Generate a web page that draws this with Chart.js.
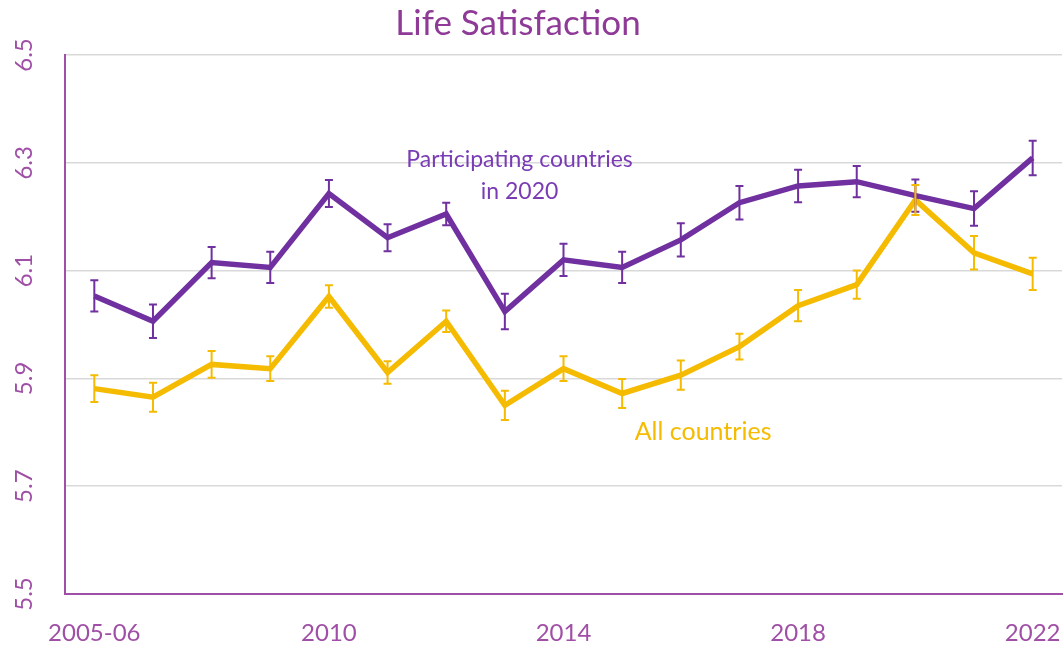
<!DOCTYPE html>
<html>
<head>
<meta charset="utf-8">
<script src="https://cdn.jsdelivr.net/npm/chart.js@4"></script>
<style>
  html, body { margin: 0; padding: 0; background: #fff; }
  #wrap { width: 1063px; height: 645px; }
</style>
</head>
<body>
<div id="wrap"><canvas id="myChart" width="1063" height="645"></canvas></div>
<script>
const years = ["2005-06", "2007", "2008", "2009", "2010", "2011", "2012", "2013", "2014",
  "2015", "2016", "2017", "2018", "2019", "2020", "2021", "2022"]
const shownYears = ["2005-06", "2010", "2014", "2018", "2022"]

const participating = [6.053, 6.006, 6.115, 6.106, 6.243, 6.161, 6.205, 6.024, 6.120,
  6.106, 6.157, 6.226, 6.257, 6.265, 6.239, 6.215, 6.309]
const participatingErr = [0.029, 0.031, 0.029, 0.029, 0.025, 0.025, 0.021, 0.033, 0.030,
  0.029, 0.031, 0.031, 0.030, 0.029, 0.030, 0.032, 0.032]

const allCountries = [5.881, 5.865, 5.926, 5.918, 6.052, 5.911, 6.006, 5.850, 5.918,
  5.872, 5.906, 5.959, 6.035, 6.074, 6.231, 6.133, 6.094]
const allCountriesErr = [0.025, 0.027, 0.025, 0.023, 0.021, 0.021, 0.020, 0.027, 0.023,
  0.027, 0.027, 0.024, 0.029, 0.026, 0.028, 0.031, 0.030]

const yTicks = [5.5, 5.7, 5.9, 6.1, 6.3, 6.5]

const purple = "#7030a0"
const yellow = "#f5bb00"
const axisPurple = "#a04fa6"
const font = "Lato, 'Open Sans', sans-serif"

const errorBars = {
  id: "errorBars",
  afterDatasetsDraw(chart) {
    const ctx = chart.ctx
    const yScale = chart.scales.y
    chart.data.datasets.forEach((ds, i) => {
      const meta = chart.getDatasetMeta(i)
      ctx.save()
      ctx.strokeStyle = ds.borderColor
      ctx.lineWidth = 2
      meta.data.forEach((pt, j) => {
        const v = ds.data[j]
        const e = ds.errors[j]
        const top = yScale.getPixelForValue(v + e)
        const bot = yScale.getPixelForValue(v - e)
        ctx.beginPath()
        ctx.moveTo(pt.x, top)
        ctx.lineTo(pt.x, bot)
        ctx.moveTo(pt.x - 4, top)
        ctx.lineTo(pt.x + 4, top)
        ctx.moveTo(pt.x - 4, bot)
        ctx.lineTo(pt.x + 4, bot)
        ctx.stroke()
      })
      ctx.restore()
    })
  },
}

// y tick labels are rotated and centred on their gridline
const yLabels = {
  id: "yLabels",
  afterDraw(chart) {
    const ctx = chart.ctx
    const y = chart.scales.y
    ctx.save()
    ctx.fillStyle = axisPurple
    ctx.font = "24px " + font
    ctx.textAlign = "center"
    ctx.textBaseline = "middle"
    y.ticks.forEach((t) => {
      ctx.save()
      ctx.translate(24, y.getPixelForValue(t.value))
      ctx.rotate(-Math.PI / 2)
      ctx.fillText(t.value.toFixed(1), 0, 0)
      ctx.restore()
    })
    ctx.restore()
  },
}

const labels = {
  id: "labels",
  afterDraw(chart) {
    const ctx = chart.ctx
    const x = chart.scales.x
    const y = chart.scales.y
    ctx.save()
    ctx.textAlign = "center"
    ctx.textBaseline = "middle"

    ctx.fillStyle = "#8e3a96"
    ctx.font = "35px " + font
    ctx.fillText("Life Satisfaction", 518, 24)

    ctx.font = "23px " + font
    ctx.fillStyle = "#7a3cb4"
    ctx.fillText("Participating countries", x.getPixelForValue(7.25), y.getPixelForValue(6.306))
    ctx.fillText("in 2020", x.getPixelForValue(7.25), y.getPixelForValue(6.246))

    ctx.font = "25px " + font
    ctx.fillStyle = yellow
    ctx.fillText("All countries", x.getPixelForValue(10.38), y.getPixelForValue(5.80))
    ctx.restore()
  },
}

const config = {
  type: "line",
  data: {
    labels: years,
    datasets: [
      {
        label: "Participating countries in 2020",
        data: participating,
        errors: participatingErr,
        borderColor: purple,
        borderWidth: 5.5,
        pointRadius: 0,
        tension: 0,
      },
      {
        label: "All countries",
        data: allCountries,
        errors: allCountriesErr,
        borderColor: yellow,
        borderWidth: 5.5,
        pointRadius: 0,
        tension: 0,
      },
    ],
  },
  options: {
    responsive: false,
    animation: false,
    layout: { padding: { top: 55, right: 1, left: 0, bottom: 0 } },
    plugins: {
      legend: { display: false },
      title: { display: false },
      tooltip: { enabled: false },
    },
    scales: {
      x: {
        offset: true,
        grid: { display: false, drawTicks: false },
        border: { color: axisPurple, width: 2 },
        ticks: {
          autoSkip: false,
          maxRotation: 0,
          padding: 25,
          color: axisPurple,
          font: { family: font, size: 24 },
          callback(val, i) {
            const l = years[i]
            return shownYears.includes(l) ? l : ""
          },
        },
        afterFit(scale) {
          scale.height = 51
          scale.paddingLeft = 0
          scale.paddingRight = 0
        },
      },
      y: {
        min: 5.5,
        max: 6.5,
        afterBuildTicks(scale) {
          scale.ticks = yTicks.map((v) => ({ value: v }))
        },
        grid: { color: "#d9d9d9", lineWidth: 1.5, drawTicks: false },
        border: { color: axisPurple, width: 2 },
        ticks: { display: false },
        afterFit(scale) {
          scale.width = 65
          scale.paddingTop = 0
          scale.paddingBottom = 0
        },
      },
    },
  },
  plugins: [errorBars, yLabels, labels],
}

const myChart = new Chart(document.getElementById("myChart"), config)
</script>
</body>
</html>
